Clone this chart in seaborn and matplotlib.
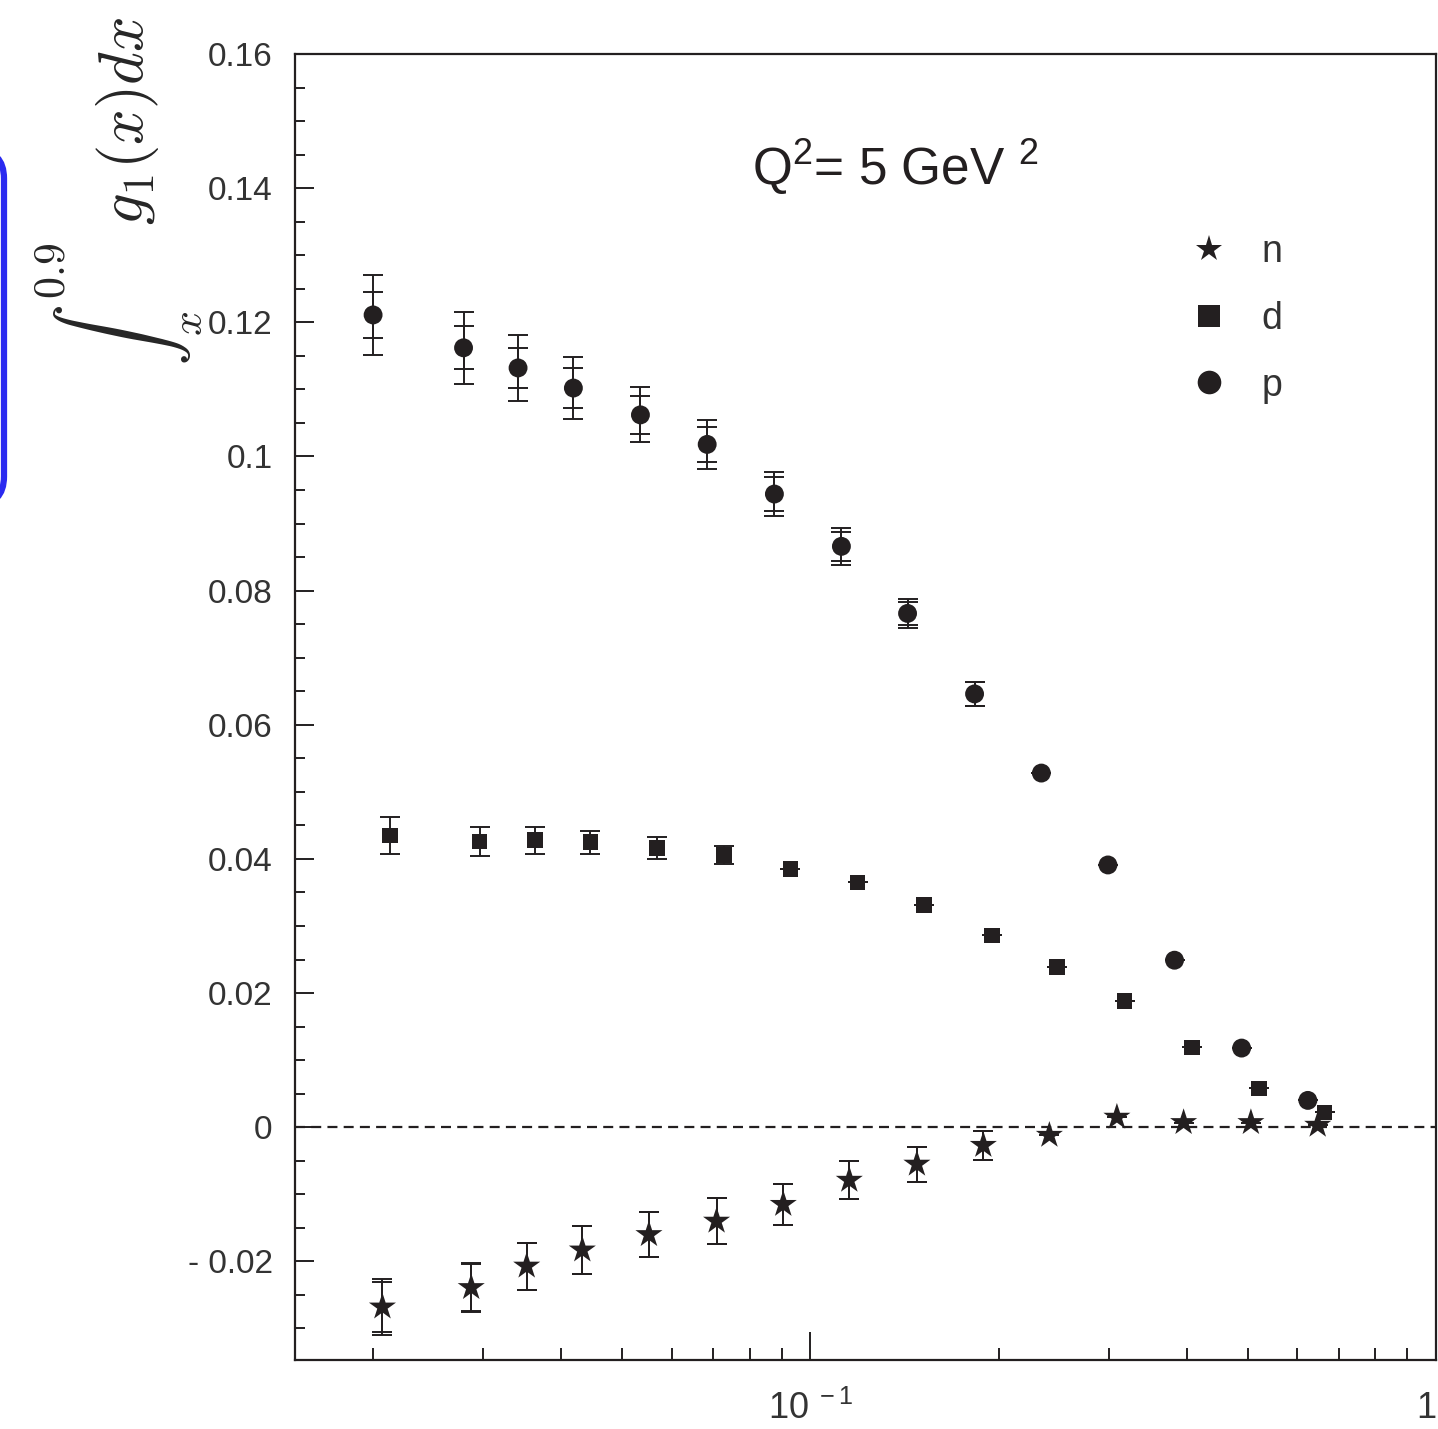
import numpy as np
import pandas as pd
import matplotlib
matplotlib.use("Agg")
import matplotlib.pyplot as plt
import seaborn as sns
from matplotlib.lines import Line2D
from matplotlib.patches import FancyBboxPatch
from matplotlib.ticker import FixedLocator, FuncFormatter

# data
x_p = [0.0200, 0.0279, 0.0341, 0.0418, 0.0535, 0.0684, 0.0876, 0.1121, 0.143, 0.183, 0.234, 0.299, 0.382, 0.489, 0.624]
g_p = [0.1211, 0.1162, 0.1132, 0.1102, 0.1062, 0.1018, 0.0944, 0.0866, 0.0766, 0.0646, 0.0528, 0.0391, 0.0249, 0.0118, 0.0040]
tot_p = [0.0060, 0.0054, 0.0049, 0.0046, 0.0041, 0.0037, 0.0033, 0.0028, 0.0022, 0.0018, 0, 0, 0, 0, 0]
stat_p = [0.0034, 0.0032, 0.0030, 0.0030, 0.0028, 0.0026, 0.0025, 0.0022, 0.0017, 0.0018, 0, 0, 0, 0, 0]

x_d = [0.0213, 0.0296, 0.0363, 0.0445, 0.0569, 0.0728, 0.0929, 0.119, 0.152, 0.195, 0.248, 0.318, 0.407, 0.521, 0.664]
g_d = [0.0435, 0.0426, 0.0428, 0.0425, 0.0416, 0.0406, 0.0385, 0.0365, 0.0331, 0.0286, 0.0239, 0.0188, 0.0119, 0.0058, 0.0022]
err_d = [0.0028, 0.0022, 0.0020, 0.0017, 0.0016, 0.0013, 0, 0, 0, 0, 0, 0, 0, 0, 0]

x_n = [0.0207, 0.0287, 0.0352, 0.0432, 0.0552, 0.0708, 0.0905, 0.1154, 0.148, 0.189, 0.241, 0.309, 0.395, 0.506, 0.647]
g_n = [-0.0268, -0.0239, -0.0207, -0.0183, -0.0160, -0.0140, -0.0115, -0.0079, -0.0055, -0.0027, -0.0012, 0.0015, 0.0007, 0.0007, 0.0003]
tot_n = [0.0042, 0.0037, 0.0035, 0.0036, 0.0034, 0.0034, 0.0031, 0.0028, 0.0026, 0.0022, 0, 0, 0, 0, 0]
stat_n = [0.0037, 0.0035, 0.0035, 0.0036, 0.0034, 0.0034, 0.0031, 0.0028, 0.0026, 0.0022, 0, 0, 0, 0, 0]

labels = ["n", "d", "p"]

sns.set_style("ticks")
plt.rcParams["font.family"] = ["Liberation Sans", "DejaVu Sans"]
plt.rcParams["mathtext.fontset"] = "custom"
plt.rcParams["mathtext.rm"] = "Liberation Sans"
plt.rcParams["mathtext.it"] = "Liberation Sans:italic"

ink = "#231f20"

fig = plt.figure(figsize=(14.38, 14.29), dpi=100)
ax = fig.add_axes([0.2051, 0.0483, 0.7935, 0.9139])

df_p = pd.DataFrame({"x": x_p, "g": g_p})
df_d = pd.DataFrame({"x": x_d, "g": g_d})
df_n = pd.DataFrame({"x": x_n, "g": g_n})

ax.axhline(0, color=ink, lw=1.6, ls=(0, (4.5, 2.8)), zorder=1)

eb = dict(fmt="none", ecolor=ink, elinewidth=1.4, capsize=7.5, capthick=1.4, zorder=2)
ax.errorbar(x_p, g_p, yerr=tot_p, **eb)
ax.errorbar(x_p, g_p, yerr=stat_p, **eb)
ax.errorbar(x_d, g_d, yerr=err_d, **eb)
ax.errorbar(x_n, g_n, yerr=tot_n, **eb)
ax.errorbar(x_n, g_n, yerr=stat_n, **eb)

sns.scatterplot(data=df_p, x="x", y="g", marker="o", s=185, color=ink, edgecolor="none", ax=ax, zorder=3)
sns.scatterplot(data=df_d, x="x", y="g", marker="s", s=125, color=ink, edgecolor="none", ax=ax, zorder=3)
sns.scatterplot(data=df_n, x="x", y="g", marker="*", s=420, color=ink, edgecolor="none", ax=ax, zorder=3)

ax.set_xscale("log")
ax.set_xlim(0.015, 1.0)
ax.set_ylim(-0.0347, 0.16)

ax.xaxis.set_major_locator(FixedLocator([0.1, 1.0]))
ax.xaxis.set_minor_locator(FixedLocator([0.02, 0.03, 0.04, 0.05, 0.06, 0.07, 0.08, 0.09,
                                         0.2, 0.3, 0.4, 0.5, 0.6, 0.7, 0.8, 0.9]))
ax.xaxis.set_major_formatter(FuncFormatter(lambda v, p: r"10$^{\ -1}$" if v < 0.5 else "1"))
ax.xaxis.set_minor_formatter(FuncFormatter(lambda v, p: ""))

ax.yaxis.set_major_locator(FixedLocator(np.arange(-0.02, 0.1601, 0.02)))
ax.yaxis.set_minor_locator(FixedLocator(np.arange(-0.03, 0.1601, 0.005)))
ax.yaxis.set_major_formatter(FuncFormatter(lambda v, p: ("%g" % round(v, 3)).replace("-", "- ")))

ax.tick_params(axis="both", which="both", direction="in", colors=ink, labelcolor="#333333",
               top=False, right=False, width=1.4)
ax.tick_params(axis="y", which="major", length=14, pad=16, labelsize=24)
ax.tick_params(axis="y", which="minor", length=7)
ax.tick_params(axis="x", which="major", length=20, pad=22, labelsize=26)
ax.tick_params(axis="x", which="minor", length=9)

for s in ax.spines.values():
    s.set_color(ink)
    s.set_linewidth(1.6)
    s.set_visible(True)

fig.canvas.draw()
xl = ax.get_xticklabels()
xl[-1].set_horizontalalignment("right")

ax.set_xlabel("")
ax.set_ylabel(r"$\int_x^{0.9}\ g_1(x)dx$", fontsize=45, math_fontfamily="cm", va="center")
ax.yaxis.set_label_coords(-0.155, 0.895)

ax.text(0.526, 0.9, "Q$^2$= 5 GeV $^2$", transform=ax.transAxes, ha="center", va="baseline",
        fontsize=37, color=ink)

handles = [
    Line2D([], [], ls="none", marker="*", markersize=20, color=ink, markeredgewidth=0),
    Line2D([], [], ls="none", marker="s", markersize=16, color=ink, markeredgewidth=0),
    Line2D([], [], ls="none", marker="o", markersize=17, color=ink, markeredgewidth=0),
]
ax.legend(handles, labels, loc="upper left", bbox_to_anchor=(0.755, 0.888), frameon=False,
          fontsize=27, handlelength=1.0, handletextpad=0.9, labelspacing=0.82,
          labelcolor="#333333")

fig.patches.append(FancyBboxPatch((-60 / 1438, 1 - 505 / 1429), 64 / 1438, 355 / 1429,
                                  boxstyle="round,pad=0,rounding_size=0.02",
                                  transform=fig.transFigure, facecolor="none",
                                  edgecolor="#2a2af0", linewidth=4.5, figure=fig))

fig.savefig("out.png", dpi=100)
